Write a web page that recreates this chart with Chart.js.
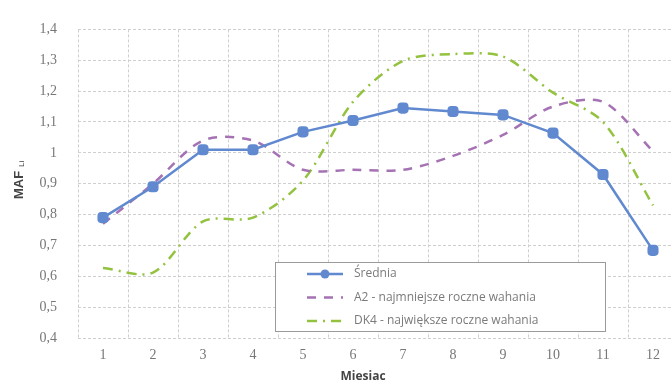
<!DOCTYPE html>
<html>
<head>
<meta charset="utf-8">
<script src="https://cdn.jsdelivr.net/npm/chart.js@4/dist/chart.umd.min.js"></script>
<style>
  body { margin: 0; background: #fff; overflow: hidden; }
  #wrap { width: 690px; height: 387px; position: relative; }
</style>
</head>
<body>
<div id="wrap"><canvas id="myChart"></canvas></div>
<script>
const miesiace = ['1', '2', '3', '4', '5', '6', '7', '8', '9', '10', '11', '12'];
const srednia = [0.79, 0.89, 1.01, 1.01, 1.068, 1.105, 1.145, 1.134, 1.123, 1.064, 0.93, 0.684];
const a2 = [0.77, 0.9, 1.04, 1.04, 0.945, 0.945, 0.945, 0.99, 1.058, 1.15, 1.165, 1.005];
const dk4 = [0.627, 0.612, 0.778, 0.79, 0.91, 1.165, 1.298, 1.32, 1.312, 1.195, 1.1, 0.83];
const yTicks = ['0,4', '0,5', '0,6', '0,7', '0,8', '0,9', '1', '1,1', '1,2', '1,3', '1,4'];
const etykiety = ['Średnia', 'A2 - najmniejsze roczne wahania', 'DK4 - największe roczne wahania'];

const ctx = document.getElementById('myChart');

// legenda w obszarze wykresu + tytuly osi
const dodatki = {
    id: 'dodatki',
    afterDraw(chart) {
        const c = chart.ctx;
        c.save();
        // legenda
        c.fillStyle = '#fff';
        c.fillRect(275.5, 262.5, 330, 69);
        c.strokeStyle = '#9a9a9a';
        c.lineWidth = 1;
        c.strokeRect(275.5, 262.5, 330, 69);
        chart.data.datasets.forEach(function (ds, i) {
            let y = 274 + i * 23.5;
            c.strokeStyle = ds.borderColor;
            c.lineWidth = ds.borderWidth;
            c.setLineDash(ds.borderDash || []);
            c.beginPath();
            c.moveTo(307, y);
            c.lineTo(343, y);
            c.stroke();
            c.setLineDash([]);
            if (ds.pointRadius > 0) {
                c.fillStyle = ds.pointBackgroundColor;
                c.beginPath();
                c.arc(325, y, 4.5, 0, Math.PI * 2);
                c.fill();
            }
            c.fillStyle = '#7a7a7a';
            c.font = '12px "Open Sans"';
            c.textBaseline = 'middle';
            c.textAlign = 'left';
            c.fillText(ds.label, 354, y);
        });
        // tytul osi X
        c.fillStyle = '#444';
        c.font = 'bold 12px "Open Sans"';
        c.textAlign = 'center';
        c.textBaseline = 'middle';
        c.fillText('Miesiac', 363, 377);
        // tytul osi Y
        c.translate(19, 185);
        c.rotate(-Math.PI / 2);
        c.font = 'bold 13px "Liberation Sans"';
        c.textAlign = 'left';
        c.fillStyle = '#444';
        c.fillText('MAF', -14, 0);
        c.font = '8px "Liberation Sans"';
        c.fillText('Li', 18, 3);
        c.restore();
    }
};

var myChart = new Chart(ctx, {
    type: 'line',
    data: {
        labels: miesiace,
        datasets: [{
            label: etykiety[0],
            data: srednia,
            borderColor: '#6189cf',
            borderWidth: 2.5,
            tension: 0,
            pointStyle: 'rectRounded',
            pointRadius: 5,
            pointBackgroundColor: '#6189cf',
            pointBorderColor: '#6189cf'
        }, {
            label: etykiety[1],
            data: a2,
            borderColor: '#a572b4',
            borderWidth: 2.5,
            borderDash: [9, 8],
            tension: 0.3,
            pointRadius: 0
        }, {
            label: etykiety[2],
            data: dk4,
            borderColor: '#93c23e',
            borderWidth: 2.5,
            borderDash: [10, 6, 2, 6],
            tension: 0.3,
            pointRadius: 0
        }]
    },
    options: {
        responsive: true,
        maintainAspectRatio: false,
        animation: false,
        layout: { padding: { top: 17, right: 12, left: 0, bottom: 0 } },
        plugins: {
            legend: { display: false },
            tooltip: { enabled: false }
        },
        scales: {
            x: {
                offset: true,
                grid: { offset: true, color: '#cfcfcf', drawTicks: false },
                border: { display: false, dash: [3, 2] },
                ticks: {
                    color: '#777',
                    font: { family: 'Liberation Serif', size: 14 },
                    padding: 9
                },
                afterFit: function (scale) { scale.height = 49; }
            },
            y: {
                min: 0.4,
                max: 1.4,
                grid: { color: '#cfcfcf', drawTicks: false },
                border: { display: false, dash: [3, 2] },
                ticks: {
                    stepSize: 0.1,
                    color: '#777',
                    font: { family: 'Liberation Serif', size: 14 },
                    padding: 21,
                    callback: function (v, i) { return yTicks[i]; }
                },
                afterFit: function (scale) { scale.width = 78; }
            }
        }
    },
    plugins: [dodatki]
});
</script>
</body>
</html>
